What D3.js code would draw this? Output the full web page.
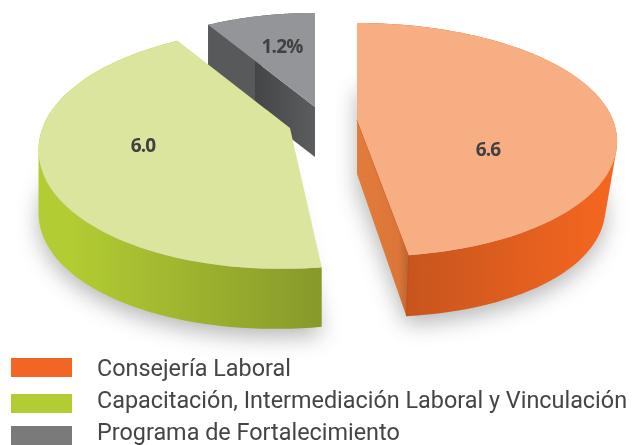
<!DOCTYPE html>
<html><head><meta charset="utf-8">
<script src="https://cdn.jsdelivr.net/npm/d3@7"></script>
<style>html,body{margin:0;padding:0;background:#fff;overflow:hidden}svg{display:block}</style>
</head><body>
<svg id="c" width="632" height="445"></svg>
<script>
const categories = ["Consejería Laboral","Capacitación, Intermediación Laboral y Vinculación","Programa de Fortalecimiento"];
const values = [6.6, 6.0, 1.2];
const valueLabels = ["6.6","6.0","1.2%"];
const legendColors = ["#f36525","#b2cc34","#7a7a7a"];
const topColors = ["#f8ae83","#dbe59d","#939598"];

// Pose of each exploded slice in the 3-D drawing (not data)
const poses = [
 {cx:357,cy:120,sx:1,sy:1,lean:10,h:60,hu:7,shrink:.955,apexDrop:54,lx:488,ly:149,
  wall:["#c8551e","#f4661f"],wallX:[408,605],face:"end",faceStops:[[0,"#e27c3c"],[.8,"#dc7638"],[1,"#b9652f"]],edge:"#c8400f"},
 {cx:290,cy:128,sx:.967,sy:1.03,lean:-9,h:60,hu:-3,shrink:1,apexDrop:0,lx:143,ly:145,
  wall:["#b2cc33","#87992a"],wallX:[70,322],face:null},
 {cx:315,cy:107,sx:.92,sy:.97,lean:0,h:50,hu:0,shrink:1,apexDrop:50,lx:282,ly:46,
  wall:["#58595b","#58595b"],wallX:[207,315],face:"start",
  faceStops:[[0,"#58595b"],[.44,"#58595b"],[.44,"#444547"],[1,"#5c5d5f"]]}
];
const swatchTops = [358,394,426];
const R = 256, S = 113.5, K = 0.17;

const svg = d3.select("#c");
const defs = svg.append("defs");
defs.append("filter").attr("id","blur").attr("x","-30%").attr("y","-30%").attr("width","160%").attr("height","160%")
  .append("feGaussianBlur").attr("stdDeviation",11);

const arcs = d3.pie().sort(null).startAngle(0).endAngle(2*Math.PI)(values);
const line = d3.line();

function project(p, a, r=1){
  const u = Math.sin(a)*r, v = -Math.cos(a)*r, w = 1 - K*v;
  const lean = v>0 ? p.lean*v*v : 0;
  return [p.cx + R*p.sx*u/w + lean, p.cy + S*p.sy*v/w, u];
}
function lower(p, q){
  return [p.cx + (q[0]-p.cx)*p.shrink, q[1] + p.h + p.hu*q[2]];
}
function samples(d){
  const n = 80;
  return d3.range(n+1).map(i => d.startAngle + (d.endAngle-d.startAngle)*i/n);
}

// soft ground shadow
const shadow = svg.append("g").attr("filter","url(#blur)").attr("opacity",.5);
[0,1].forEach(i=>{
  const d=arcs[i], p=poses[i];
  const pts=[[p.cx,p.cy+p.h],...samples(d).map(a=>lower(p,project(p,a)))];
  shadow.append("path").attr("d",line(pts)+"Z").attr("fill","#6d6e70").attr("transform","translate(0,8)");
});

function grad(id,x0,x1,stops){
  const g=defs.append("linearGradient").attr("id",id).attr("gradientUnits","userSpaceOnUse")
    .attr("x1",x0).attr("x2",x1).attr("y1",0).attr("y2",0);
  stops.forEach(s=>g.append("stop").attr("offset",s[0]).attr("stop-color",s[1]));
}

[2,1,0].forEach(i=>{
  const d=arcs[i], p=poses[i], g=svg.append("g");
  const top=samples(d).map(a=>project(p,a));
  grad("wall"+i,p.wallX[0],p.wallX[1],[[0,p.wall[0]],[1,p.wall[1]]]);
  const bottom=top.map(q=>lower(p,q));
  // curved wall: one path of same-wound strips, so the silhouette is closed and no seams show
  const wallD=d3.pairs(d3.range(top.length)).map(([a,b])=>{
    const quad=[top[a].slice(0,2),top[b].slice(0,2),bottom[b],bottom[a]];
    if(d3.polygonArea(quad)<0) quad.reverse();
    return line(quad)+"Z";
  }).join("");
  g.append("path").attr("d",wallD).attr("fill",`url(#wall${i})`);
  if(p.face){
    const q=p.face==="end"?top[top.length-1]:top[0];
    const b=p.face==="end"?bottom[bottom.length-1]:bottom[0];
    const xs=[Math.min(p.cx,q[0]),Math.max(p.cx,q[0])];
    grad("face"+i,xs[0],xs[1],p.faceStops);
    g.append("path").attr("d",line([[p.cx,p.cy],[q[0],q[1]],b,[p.cx,p.cy+p.apexDrop]])+"Z").attr("fill",`url(#face${i})`);
    if(p.edge){
      g.append("path").attr("d",line([[p.cx,p.cy],[q[0],q[1]],b])).attr("fill","none").attr("stroke",p.edge).attr("stroke-width",.8);
    }
  }
  g.append("path").attr("d",line([[p.cx,p.cy],...top.map(q=>[q[0],q[1]])])+"Z").attr("fill",topColors[i]);
  g.append("text").attr("x",p.lx).attr("y",p.ly).attr("dy","0.35em").attr("text-anchor","middle")
    .attr("font-family","'Open Sans',sans-serif").attr("font-weight",700).attr("font-size",19)
    .attr("letter-spacing",-0.8).attr("fill","#414042").text(valueLabels[i]);
});

// legend
const textY = d3.scalePoint().domain(categories).range([376,440]);
const lg = svg.append("g").selectAll("g").data(categories).join("g");
lg.append("rect").attr("x",11).attr("y",(c,i)=>swatchTops[i]).attr("width",61).attr("height",19)
  .attr("fill",(c,i)=>legendColors[i]);
lg.append("text").attr("x",97).attr("y",c=>textY(c)).attr("font-family","Roboto,sans-serif").attr("font-size",23.4)
  .attr("fill","#454547").text(c=>c);
</script>
</body></html>
